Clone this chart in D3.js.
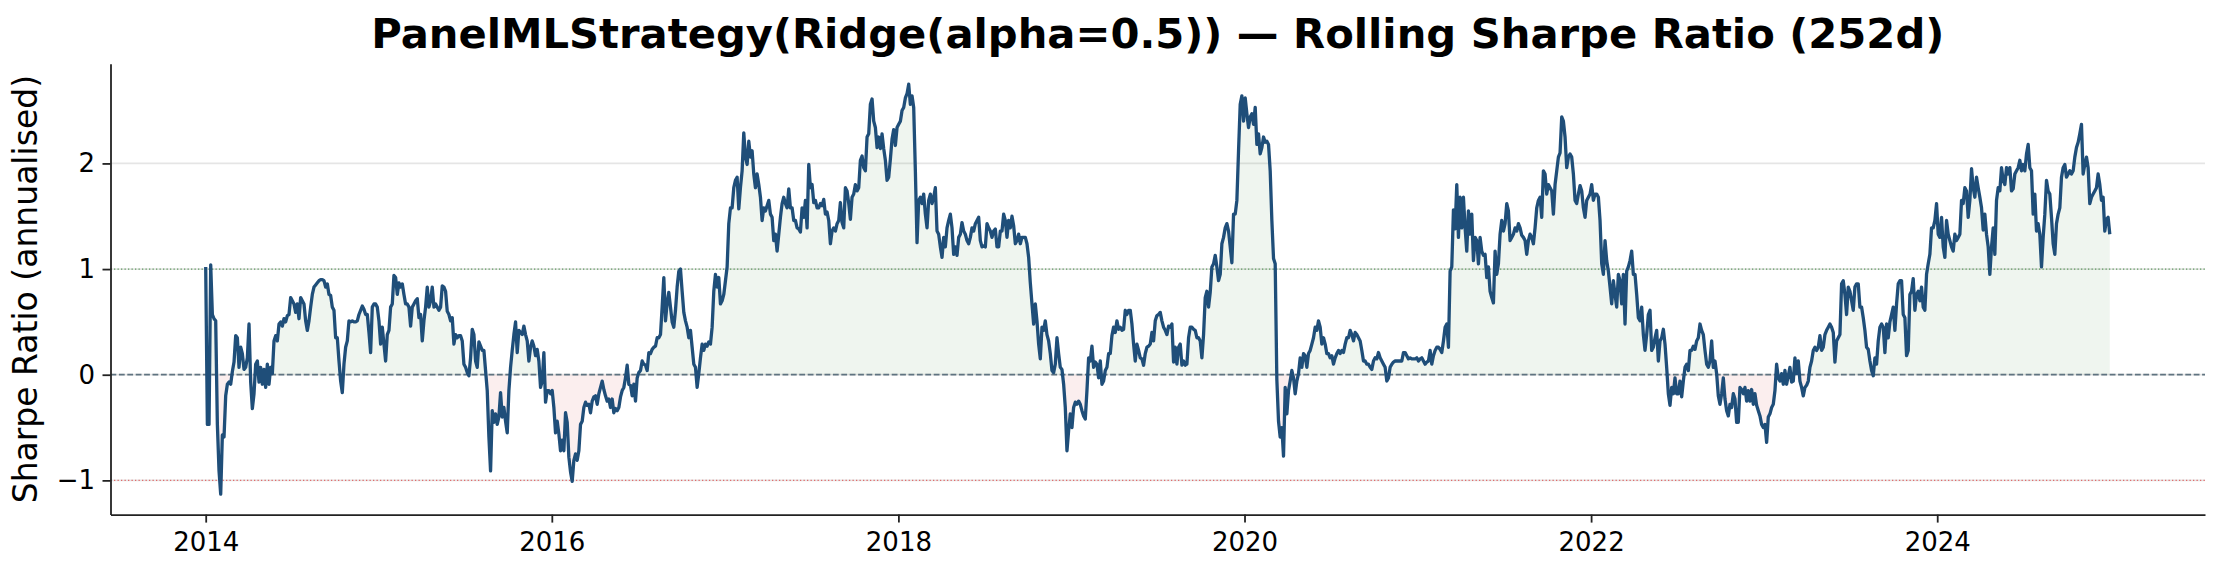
<!DOCTYPE html>
<html><head><meta charset="utf-8">
<script src="https://cdn.jsdelivr.net/npm/d3@7/dist/d3.min.js"></script>
<style>body{margin:0;background:#fff} svg{display:block}</style>
</head><body><svg id="chart" width="2221" height="571"></svg>
<script>
// ---------- data ----------
const titleText = "PanelMLStrategy(Ridge(alpha=0.5)) — Rolling Sharpe Ratio (252d)";
const yLabelText = "Sharpe Ratio (annualised)";
const startDate = "2014-01-01";
const endDate = "2024-12-30";
const yTicks = [-1, 0, 1, 2];
const xTickYears = [2014, 2016, 2018, 2020, 2022, 2024];
const refLevels = [1, 0, -1];

const sharpe2014 = [1.02,-0.47,-0.47,1.04,0.57,0.53,0.51,-0.47,-0.91,-1.13,-0.57,-0.59,-0.2,-0.09,-0.07,-0.09,0.03,0.12,0.37,0.35,0.07,0.26,0.2,0.05,0.07,0.16,0.48,-0.07,-0.32,-0.18,0.1,0.13,-0.07,0.07,-0.09,0.05,-0.12,0.1,-0.09,0.07,0.01,0.32,0.37,0.32,0.48,0.5,0.46,0.53,0.5,0.56,0.57,0.73,0.7,0.67,0.59,0.67,0.53,0.73,0.7,0.67,0.51,0.42,0.51,0.64,0.76,0.83,0.85,0.87,0.89,0.9,0.9,0.89,0.83,0.86,0.76,0.75,0.64,0.61,0.35,0.35,0.13,-0.06,-0.17,0.1,0.26,0.32,0.51,0.5,0.51,0.5,0.5,0.51,0.57,0.61,0.65,0.62,0.57,0.57,0.4,0.21,0.64,0.67,0.67,0.64,0.51,0.29,0.45,0.29,0.13,0.38,0.42,0.64,0.67,0.94,0.92,0.76,0.87,0.83,0.86,0.76,0.67,0.67,0.64,0.46,0.64,0.67,0.7,0.72,0.54,0.57,0.32,0.51,0.64,0.83,0.64,0.7,0.83,0.64,0.67,0.64,0.61];
const sharpe2015 = [0.64,0.84,0.83,0.79,0.6,0.57,0.51,0.54,0.29,0.38,0.35,0.37,0.37,0.32,0.1,0.07,0.02,-0.01,0.16,0.43,0.38,0.13,0.07,0.31,0.27,0.23,0.23,0.04,-0.15,-0.59,-0.91,-0.34,-0.45,-0.37,-0.47,-0.4,-0.17,-0.4,-0.31,-0.44,-0.55,-0.15,0.07,0.23,0.38,0.5,0.21,0.42,0.4,0.38,0.46,0.38,0.32,0.13,0.26,0.32,0.27,0.18,0.24,0.13,-0.12,-0.06,0.21,-0.26,-0.15,-0.15,-0.18,-0.15,-0.31,-0.55,-0.44,-0.56,-0.72,-0.62,-0.72,-0.36,-0.45,-0.78,-0.92,-1.01,-0.81,-0.75,-0.81,-0.72,-0.47,-0.44,-0.31,-0.26,-0.29,-0.28,-0.36,-0.25,-0.21,-0.2,-0.28,-0.18,-0.12,-0.06,-0.14,-0.2,-0.25,-0.23,-0.31,-0.23,-0.36,-0.32,-0.34,-0.31,-0.21,-0.15,-0.12,-0.03,0.09,-0.09,-0.1,-0.2,-0.09,-0.25,-0.03,0.02,0.04,0.13,0.1,0.09,0.04,0.21,0.2,0.24,0.26,0.27,0.35,0.35,0.38,0.64,0.92,0.51,0.68,0.78,0.64,0.5,0.45,0.61,0.83,0.98];
const sharpe2017 = [1.0,0.79,0.59,0.51,0.45,0.35,0.42,0.26,0.1,0.07,-0.12,0.01,0.16,0.29,0.23,0.29,0.27,0.31,0.29,0.45,0.79,0.95,0.83,0.92,0.67,0.7,0.76,0.89,1.02,1.43,1.58,1.58,1.77,1.84,1.87,1.57,1.77,1.93,2.29,2.06,1.99,2.21,2.06,2.12,1.9,1.77,1.9,1.8,1.68,1.46,1.58,1.55,1.6,1.65,1.52,1.49,1.27,1.33,1.17,1.33,1.49,1.62,1.68,1.62,1.58,1.76,1.58,1.58,1.46,1.46,1.39,1.38,1.35,1.58,1.49,1.65,1.39,1.99,1.77,1.8,1.63,1.65,1.58,1.58,1.62,1.6,1.66,1.52,1.54,1.46,1.24,1.36,1.39,1.36,1.43,1.46,1.63,1.44,1.39,1.77,1.74,1.62,1.47,1.68,1.71,1.8,1.74,1.77,2.03,2.07,1.96,1.93,2.25,2.28,2.56,2.61,2.4,2.34,2.15,2.25,2.14,2.28,2.14,2.03,1.84,1.87,2.04,2.23,2.32,2.17,2.34,2.37,2.4,2.5,2.53,2.62,2.66,2.75,2.56,2.64,2.53,1.93,1.25,1.65];
const sharpe2018 = [1.68,1.62,1.71,1.52,1.39,1.65,1.71,1.62,1.68,1.77,1.36,1.33,1.21,1.11,1.3,1.21,1.39,1.46,1.52,1.39,1.14,1.21,1.13,1.3,1.33,1.44,1.36,1.33,1.27,1.24,1.3,1.39,1.36,1.43,1.46,1.49,1.27,1.21,1.22,1.21,1.43,1.39,1.36,1.3,1.36,1.38,1.21,1.21,1.36,1.36,1.52,1.46,1.3,1.46,1.39,1.5,1.41,1.24,1.27,1.33,1.24,1.3,1.3,1.3,1.24,1.11,0.87,0.67,0.48,0.67,0.51,0.29,0.15,0.45,0.42,0.51,0.38,0.32,0.2,0.04,0.02,0.1,0.35,0.2,0.07,0.05,-0.09,-0.31,-0.72,-0.53,-0.37,-0.5,-0.31,-0.26,-0.28,-0.25,-0.28,-0.34,-0.39,-0.42,-0.15,0.16,0.13,0.27,0.07,0.12,0.1,-0.03,0.13,-0.09,-0.06,0.04,0.07,0.2,0.2,0.37,0.45,0.4,0.51,0.43,0.45,0.42,0.43,0.61,0.57,0.61,0.61,0.48,0.29,0.13,0.29,0.23,0.16,0.15,0.09,0.2,0.26,0.27,0.29,0.4,0.32,0.51,0.56,0.57];
const sharpe2020 = [0.59,0.51,0.45,0.42,0.38,0.46,0.45,0.48,0.12,0.26,0.1,0.26,0.29,0.09,0.13,0.09,0.1,0.35,0.45,0.45,0.43,0.42,0.35,0.35,0.32,0.16,0.38,0.73,0.79,0.64,0.78,1.02,1.05,1.13,1.02,0.89,0.95,1.24,1.3,1.39,1.43,1.36,1.21,1.06,1.52,1.52,1.65,2.12,2.56,2.64,2.4,2.62,2.47,2.34,2.44,2.47,2.37,2.53,2.18,2.28,2.09,2.15,2.25,2.2,2.21,2.18,1.93,1.46,1.1,1.05,-0.05,-0.44,-0.59,-0.5,-0.77,-0.12,-0.37,-0.15,-0.06,0.04,-0.03,-0.18,-0.06,0.01,0.16,0.07,0.2,0.18,0.07,0.2,0.23,0.29,0.35,0.45,0.42,0.51,0.45,0.29,0.35,0.29,0.2,0.2,0.16,0.18,0.1,0.16,0.2,0.23,0.2,0.23,0.21,0.29,0.35,0.35,0.42,0.38,0.32,0.4,0.38,0.35,0.32,0.23,0.13,0.13,0.1,0.1,0.07,0.05,0.13,0.16,0.15,0.21,0.16,0.13,0.1,0.07,-0.06,-0.03,0.07,0.1,0.12,0.13,0.13,0.13];
const sharpe2021 = [0.13,0.13,0.21,0.21,0.18,0.15,0.16,0.15,0.15,0.15,0.16,0.13,0.15,0.16,0.13,0.1,0.12,0.13,0.23,0.1,0.18,0.23,0.26,0.26,0.24,0.21,0.32,0.45,0.48,0.26,0.98,1.02,1.56,1.38,1.8,1.3,1.68,1.39,1.68,1.39,1.17,1.55,1.33,1.52,1.08,1.3,1.27,1.05,1.3,1.17,1.13,1.14,0.92,1.02,0.79,0.73,0.68,1.17,0.95,1.05,1.33,1.46,1.36,1.43,1.62,1.55,1.27,1.3,1.33,1.39,1.36,1.43,1.39,1.32,1.3,1.27,1.14,1.27,1.33,1.3,1.24,1.39,1.58,1.65,1.68,1.49,1.93,1.9,1.71,1.8,1.77,1.74,1.52,1.8,1.93,2.06,2.1,2.44,2.4,2.25,1.96,2.06,2.09,2.06,1.9,1.65,1.62,1.71,1.79,1.74,1.58,1.49,1.65,1.68,1.71,1.8,1.65,1.71,1.71,1.68,1.46,1.05,0.95,1.27,1.08,0.98,0.83,0.67,0.89,0.76,0.64,0.95,0.89,0.67,0.95,0.48,0.98,1.02,1.08,1.17,0.95,0.95,0.76,0.54];
const sharpe2022 = [0.51,0.64,0.38,0.23,0.38,0.57,0.61,0.23,0.26,0.35,0.42,0.13,0.32,0.35,0.43,0.29,0.07,-0.18,-0.29,-0.12,-0.18,-0.03,-0.18,-0.18,-0.06,-0.21,-0.06,0.07,0.1,0.04,0.23,0.23,0.27,0.24,0.32,0.35,0.48,0.42,0.38,0.23,0.1,0.07,0.13,0.32,0.07,0.13,0.01,-0.2,-0.28,-0.18,-0.03,-0.23,-0.34,-0.39,-0.28,-0.31,-0.18,-0.23,-0.45,-0.45,-0.12,-0.14,-0.18,-0.12,-0.25,-0.15,-0.25,-0.14,-0.28,-0.18,-0.29,-0.34,-0.39,-0.47,-0.5,-0.47,-0.64,-0.4,-0.37,-0.31,-0.28,-0.15,0.1,-0.03,-0.06,0.01,-0.09,0.04,-0.09,-0.01,0.07,-0.07,-0.06,0.16,0.01,0.13,-0.06,-0.12,-0.2,-0.12,-0.1,-0.06,0.07,0.13,0.23,0.26,0.23,0.26,0.37,0.23,0.26,0.38,0.42,0.45,0.48,0.45,0.4,0.12,0.32,0.35,0.38,0.86,0.89,0.76,0.57,0.83,0.79,0.7,0.61,0.83,0.86,0.86,0.64,0.64,0.54,0.42,0.26,0.24,0.13,0.04,-0.01,0.16,0.1,0.32];
const sharpe2024 = [0.45,0.48,0.45,0.21,0.48,0.35,0.5,0.57,0.64,0.42,0.67,0.86,0.89,0.89,0.57,0.54,0.18,0.23,0.76,0.79,0.91,0.61,0.76,0.79,0.7,0.83,0.64,0.61,0.95,1.05,1.14,1.39,1.39,1.46,1.62,1.33,1.3,1.49,1.21,1.11,1.46,1.33,1.27,1.21,1.17,1.33,1.27,1.3,1.33,1.65,1.62,1.77,1.74,1.49,1.65,1.95,1.77,1.68,1.87,1.77,1.68,1.58,1.37,1.52,1.33,1.21,0.95,1.21,1.39,1.14,1.65,1.77,1.74,1.96,1.84,1.8,1.96,1.9,1.96,1.74,1.76,1.9,1.93,1.96,2.03,1.93,1.99,1.93,2.09,2.18,1.96,1.93,1.52,1.71,1.36,1.43,1.33,1.02,1.3,1.52,1.84,1.74,1.71,1.49,1.24,1.14,1.43,1.52,1.58,1.87,1.96,1.99,1.87,1.9,1.93,1.9,1.93,2.06,2.15,2.2,2.28,2.37,1.9,1.99,2.06,1.96,1.62,1.68,1.71,1.74,1.77,1.9,1.8,1.65,1.68,1.36,1.47,1.49,1.33];

const sharpe = [].concat(sharpe2014, sharpe2015, sharpe2017, sharpe2018, sharpe2020, sharpe2021, sharpe2022, sharpe2024);

// ---------- build ----------
const t0 = new Date(startDate + "T00:00:00Z").getTime();
const t1 = new Date(endDate + "T00:00:00Z").getTime();
const n = sharpe.length;
const data = sharpe.map((v, i) => ({ date: new Date(t0 + (t1 - t0) * i / (n - 1)), v }));

const W = 2221, H = 571;
const M = { left: 110.5, right: 16, top: 63.7, bottom: 56.4 };
const plotL = M.left, plotR = W - M.right, plotT = M.top, plotB = H - M.bottom;

const xExt = d3.extent(data, d => d.date.getTime());
const xPad = (xExt[1] - xExt[0]) * 0.05;
const x = d3.scaleUtc().domain([new Date(xExt[0] - xPad), new Date(xExt[1] + xPad)]).range([plotL, plotR]);
const yExt = d3.extent(data, d => d.v);
const yPad = (yExt[1] - yExt[0]) * 0.05;
const y = d3.scaleLinear().domain([yExt[0] - yPad, yExt[1] + yPad]).range([plotB, plotT]);

const svg = d3.select("#chart");
const FONT = "DejaVu Sans, sans-serif";

// grid
svg.append("g").selectAll("line").data(yTicks).join("line")
  .attr("x1", plotL).attr("x2", plotR)
  .attr("y1", d => y(d)).attr("y2", d => y(d))
  .attr("stroke", "#e5e5e5").attr("stroke-width", 1.8);

// fills
const areaPos = d3.area().x(d => x(d.date)).y0(y(0)).y1(d => y(Math.max(d.v, 0)));
const areaNeg = d3.area().x(d => x(d.date)).y0(y(0)).y1(d => y(Math.min(d.v, 0)));
svg.append("path").datum(data).attr("d", areaPos).attr("fill", "#2e7d32").attr("fill-opacity", 0.08);
svg.append("path").datum(data).attr("d", areaNeg).attr("fill", "#c62828").attr("fill-opacity", 0.08);

// reference lines
const refStyle = {
  "1": { c: "#5f9a5f", w: 1.3, dash: "1.3,2.2" },
  "0": { c: "#5f7380", w: 1.8, dash: "5.8,2.6" },
  "-1": { c: "#e06b6b", w: 1.3, dash: "1.3,2.2" }
};
svg.append("g").selectAll("line").data(refLevels).join("line")
  .attr("x1", plotL).attr("x2", plotR)
  .attr("y1", d => y(d)).attr("y2", d => y(d))
  .attr("stroke", d => refStyle[d].c).attr("stroke-width", d => refStyle[d].w)
  .attr("stroke-dasharray", d => refStyle[d].dash);

// series line
svg.append("path").datum(data)
  .attr("d", d3.line().x(d => x(d.date)).y(d => y(d.v)))
  .attr("fill", "none").attr("stroke", "#1f4e79").attr("stroke-width", 3.3)
  .attr("stroke-linejoin", "round");

// axes
const xAxis = d3.axisBottom(x)
  .tickValues(xTickYears.map(yr => new Date(Date.UTC(yr, 0, 1))))
  .tickFormat(d3.utcFormat("%Y")).tickSize(8).tickPadding(9.5).tickSizeOuter(0);
const yAxis = d3.axisLeft(y).tickValues(yTicks).tickFormat(d3.format("d"))
  .tickSize(8).tickPadding(7.5).tickSizeOuter(0);

const gx = svg.append("g").attr("transform", `translate(0,${plotB})`).call(xAxis);
const gy = svg.append("g").attr("transform", `translate(${plotL},0)`).call(yAxis);
[gx, gy].forEach(g => {
  g.selectAll("path.domain").attr("stroke", "#222").attr("stroke-width", 1.8);
  g.selectAll(".tick line").attr("stroke", "#222").attr("stroke-width", 1.8);
  g.selectAll(".tick text").attr("fill", "#000").style("font-family", FONT).style("font-size", "26px");
});

// title
svg.append("text").attr("x", (plotL + plotR) / 2).attr("y", 48)
  .attr("text-anchor", "middle").style("font-family", FONT).style("font-weight", "bold")
  .style("font-size", "41.7px").attr("fill", "#000").text(titleText);

// y label
svg.append("text").attr("transform", `translate(37,${(plotT + plotB) / 2}) rotate(-90)`)
  .attr("text-anchor", "middle").style("font-family", FONT).style("font-size", "33px")
  .attr("fill", "#000").text(yLabelText);
</script></body></html>
